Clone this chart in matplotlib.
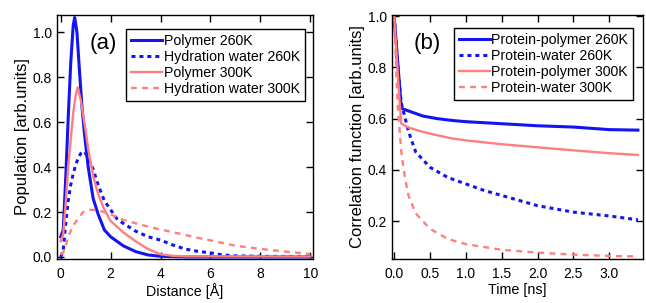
import numpy as np
import matplotlib
matplotlib.use("Agg")
import matplotlib.pyplot as plt

plt.rcParams['font.family'] = ['Liberation Sans', 'DejaVu Sans']

# (a) population vs distance
x_poly260 = [0, 0.1, 0.2, 0.3, 0.4, 0.5, 0.56, 0.65, 0.75, 0.85, 0.95, 1.1, 1.3, 1.5, 1.75, 2.0, 2.5, 3.0, 3.5, 4.0, 5.0, 6.0, 10.0]
y_poly260 = [0.09, 0.12, 0.35, 0.62, 0.86, 1.03, 1.065, 1.0, 0.83, 0.67, 0.55, 0.4, 0.26, 0.19, 0.12, 0.09, 0.05, 0.024, 0.009, 0.003, 0.0, 0.0, 0.0]

x_wat260 = [0, 0.1, 0.2, 0.3, 0.4, 0.5, 0.6, 0.7, 0.8, 0.95, 1.1, 1.3, 1.5, 1.75, 2.0, 2.25, 2.5, 3.0, 3.5, 4.0, 4.5, 5.0, 5.5, 6.0, 6.5, 7.0, 8.0, 10.0]
y_wat260 = [0.0, 0.03, 0.15, 0.25, 0.32, 0.37, 0.41, 0.44, 0.46, 0.47, 0.44, 0.39, 0.32, 0.25, 0.21, 0.17, 0.15, 0.115, 0.09, 0.075, 0.053, 0.035, 0.025, 0.018, 0.009, 0.005, 0.003, 0.002]

x_poly300 = [0, 0.1, 0.2, 0.3, 0.4, 0.5, 0.6, 0.68, 0.8, 0.9, 1.0, 1.1, 1.3, 1.5, 1.75, 2.0, 2.5, 3.0, 3.5, 4.0, 4.5, 5.0, 10.0]
y_poly300 = [0.07, 0.1, 0.24, 0.4, 0.52, 0.64, 0.72, 0.755, 0.7, 0.63, 0.56, 0.48, 0.36, 0.28, 0.21, 0.16, 0.11, 0.07, 0.035, 0.012, 0.005, 0.003, 0.002]

x_wat300 = [0, 0.1, 0.2, 0.3, 0.5, 0.7, 0.9, 1.2, 1.5, 2.0, 2.5, 3.0, 3.5, 4.0, 4.5, 5.0, 5.5, 6.0, 6.5, 7.0, 8.0, 9.0, 10.0]
y_wat300 = [0.01, 0.02, 0.05, 0.09, 0.14, 0.17, 0.2, 0.21, 0.208, 0.19, 0.165, 0.15, 0.135, 0.122, 0.11, 0.098, 0.085, 0.074, 0.062, 0.05, 0.036, 0.024, 0.013]

# (b) correlation function vs time
t_pp260 = [0, 0.1, 0.2, 0.4, 0.6, 0.8, 1.0, 1.5, 2.0, 2.5, 3.0, 3.4]
c_pp260 = [1.0, 0.64, 0.63, 0.61, 0.60, 0.593, 0.588, 0.58, 0.572, 0.567, 0.557, 0.555]

t_pw260 = [0, 0.05, 0.1, 0.2, 0.3, 0.5, 0.75, 1.0, 1.25, 1.5, 2.0, 2.5, 3.0, 3.4]
c_pw260 = [1.0, 0.8, 0.66, 0.55, 0.47, 0.41, 0.37, 0.345, 0.32, 0.30, 0.26, 0.235, 0.22, 0.205]

t_pp300 = [0, 0.08, 0.1, 0.2, 0.4, 0.6, 0.8, 1.0, 1.5, 2.0, 2.5, 3.0, 3.4]
c_pp300 = [1.0, 0.65, 0.58, 0.565, 0.548, 0.535, 0.523, 0.515, 0.50, 0.488, 0.476, 0.465, 0.458]

t_pw300 = [0, 0.02, 0.05, 0.1, 0.15, 0.2, 0.3, 0.5, 0.75, 1.0, 1.5, 2.0, 2.5, 3.0, 3.4]
c_pw300 = [1.0, 0.85, 0.65, 0.47, 0.37, 0.3, 0.23, 0.17, 0.13, 0.11, 0.088, 0.077, 0.069, 0.064, 0.062]

blue = '#1414f0'
pink = '#ff7f7f'

fig = plt.figure(figsize=(6.46, 3.03), dpi=100)
ax1 = fig.add_axes([0.0882, 0.1452, 0.396, 0.805])
ax2 = fig.add_axes([0.6068, 0.1452, 0.3885, 0.805])

ax1.plot(x_poly260, y_poly260, color=blue, lw=2.2, label='Polymer 260K')
ax1.plot(x_wat260, y_wat260, color=blue, lw=2.2, ls=(0, (1.3, 1.3)), label='Hydration water 260K')
ax1.plot(x_poly300, y_poly300, color=pink, lw=1.7, label='Polymer 300K')
ax1.plot(x_wat300, y_wat300, color=pink, lw=1.7, ls=(0, (2.5, 2.2)), label='Hydration water 300K')

ax2.plot(t_pp260, c_pp260, color=blue, lw=2.2, label='Protein-polymer 260K')
ax2.plot(t_pw260, c_pw260, color=blue, lw=2.2, ls=(0, (1.3, 1.3)), label='Protein-water 260K')
ax2.plot(t_pp300, c_pp300, color=pink, lw=1.7, label='Protein-polymer 300K')
ax2.plot(t_pw300, c_pw300, color=pink, lw=1.7, ls=(0, (2.5, 2.2)), label='Protein-water 300K')

ax1.set_xlim(-0.15, 10.1)
ax1.set_ylim(-0.009, 1.076)
ax1.set_xticks([0, 2, 4, 6, 8, 10])
ax1.set_yticks([0.0, 0.2, 0.4, 0.6, 0.8, 1.0])
ax1.set_xlabel('Distance [Å]', fontsize=10.3, labelpad=1)
ax1.set_ylabel('Population [arb.units]', fontsize=12, labelpad=2)

ax2.set_xlim(-0.03, 3.47)
ax2.set_ylim(0.052, 1.004)
ax2.set_xticks([0.0, 0.5, 1.0, 1.5, 2.0, 2.5, 3.0])
ax2.set_yticks([0.2, 0.4, 0.6, 0.8, 1.0])
ax2.set_xlabel('Time [ns]', fontsize=10.3, labelpad=1)
ax2.set_ylabel('Correlation function [arb.units]', fontsize=12, labelpad=2)

for ax in (ax1, ax2):
    ax.tick_params(direction='in', top=True, right=True, length=5, width=1, labelsize=10)
    ax.tick_params(axis='x', pad=6)
    ax.tick_params(axis='y', pad=3.5)
    for s in ax.spines.values():
        s.set_linewidth(1)

ax1.xaxis.set_major_formatter(matplotlib.ticker.FormatStrFormatter('%d'))
ax1.yaxis.set_major_formatter(matplotlib.ticker.FormatStrFormatter('%.1f'))
ax2.xaxis.set_major_formatter(matplotlib.ticker.FormatStrFormatter('%.1f'))
ax2.yaxis.set_major_formatter(matplotlib.ticker.FormatStrFormatter('%.1f'))

ax1.text(0.18, 0.885, '(a)', transform=ax1.transAxes, fontsize=16, ha='center', va='center')
ax2.text(0.14, 0.885, '(b)', transform=ax2.transAxes, fontsize=16, ha='center', va='center')

leg_kw = dict(fontsize=10.2, frameon=True, fancybox=False, edgecolor='black', framealpha=1,
              handlelength=2.2, handletextpad=0.1, borderpad=0.35, labelspacing=0.15, borderaxespad=0)
l1 = ax1.legend(loc='upper right', bbox_to_anchor=(0.969, 0.943), **leg_kw)
l2 = ax2.legend(loc='upper right', bbox_to_anchor=(0.960, 0.947), **leg_kw)
for l in (l1, l2):
    l.get_frame().set_linewidth(1)

fig.savefig('out.png', dpi=100)
